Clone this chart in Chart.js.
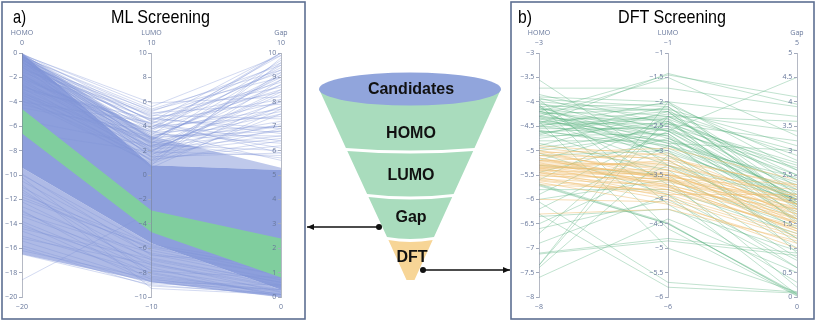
<!DOCTYPE html>
<html>
<head>
<meta charset="utf-8">
<script src="https://cdn.jsdelivr.net/npm/chart.js@4/dist/chart.umd.min.js"></script>
<style>
  html, body { margin: 0; padding: 0; background: #fff; }
  #wrap { position: relative; width: 817px; height: 323px; overflow: hidden; }
  canvas { position: absolute; top: 0; }
  #ca { left: 0; }
  #cb { left: 508px; }
  svg { position: absolute; left: 0; top: 0; }
</style>
</head>
<body>
<div id="wrap">
  <canvas id="ca" width="308" height="323"></canvas>
  <canvas id="cb" width="309" height="323"></canvas>
  <svg width="817" height="323" font-family="'Liberation Sans', Arial, sans-serif">
    <defs>
      <marker id="head" markerUnits="userSpaceOnUse" markerWidth="7" markerHeight="6" refX="7" refY="3" orient="auto">
        <path d="M0,0 L7,3 L0,6 Z" fill="#111"/>
      </marker>
    </defs>
    <!-- panel frames -->
    <rect x="2" y="2" width="303" height="317" fill="none" stroke="#5d6f92" stroke-width="1.6"/>
    <rect x="511" y="2" width="303" height="317" fill="none" stroke="#5d6f92" stroke-width="1.6"/>
    <text x="13" y="23" font-size="19" textLength="13" lengthAdjust="spacingAndGlyphs">a)</text>
    <text x="160.5" y="23" font-size="19" text-anchor="middle" textLength="99" lengthAdjust="spacingAndGlyphs">ML Screening</text>
    <text x="518" y="23" font-size="19" textLength="14" lengthAdjust="spacingAndGlyphs">b)</text>
    <text x="672" y="23" font-size="19" text-anchor="middle" textLength="108" lengthAdjust="spacingAndGlyphs">DFT Screening</text>

    <!-- funnel -->
    <path d="M319,89 L501,89 L474.5,148 Q410,153 345.9,148 Z" fill="#a9dcbd"/>
    <path d="M347.3,151 Q410,156 473.2,151 L453.6,194 Q410,199 367.1,194 Z" fill="#a9dcbd"/>
    <path d="M368.5,197 Q410,202 452.2,197 L434,237 Q410,241 387,237 Z" fill="#a9dcbd"/>
    <path d="M388.4,240 Q410,244 432.7,240 L414.5,280 L406.5,280 Z" fill="#f7d596"/>
    <ellipse cx="410" cy="89" rx="91" ry="16.5" fill="#91a5dc"/>
    <g font-size="16" font-weight="bold" text-anchor="middle" fill="#111">
      <text x="411" y="94">Candidates</text>
      <text x="411" y="137.5">HOMO</text>
      <text x="411" y="180">LUMO</text>
      <text x="411" y="222">Gap</text>
      <text x="412" y="262">DFT</text>
    </g>

    <!-- arrows -->
    <line x1="379" y1="227" x2="307" y2="227" stroke="#111" stroke-width="1.4" marker-end="url(#head)"/>
    <circle cx="379" cy="227" r="3" fill="#111"/>
    <line x1="423" y1="270" x2="510" y2="270" stroke="#111" stroke-width="1.4" marker-end="url(#head)"/>
    <circle cx="423" cy="270" r="3" fill="#111"/>
  </svg>
</div>

<script>
// ---- panel a: ML screening (HOMO, LUMO, Gap) ----
const mlNames = ['HOMO', 'LUMO', 'Gap'];
const mlMin = [-20, -10, 0];
const mlMax = [0, 10, 10];
const mlStep = [2, 2, 1];

// envelopes of the dense bundles [HOMO, LUMO, Gap]
const mlCoreTop = [0, 0.8, 5.2];
const mlCoreBottom = [-9.4, -5.6, 0.3];
const mlUpperTop = [0, 3.2, 5.3];
const mlLowerBottom = [-16.5, -8.8, 0.0];
const mlPassTop = [-4.6, -2.9, 2.4];
const mlPassBottom = [-6.6, -4.7, 0.8];

// individual sparse lines outside the dense core
const mlHomo = [-0.1, -0.3, -0.5, -0.8, -1.0, -1.2, -1.5, -1.8, -2.0, -2.3, -2.6, -2.9, -3.1, -3.4, -3.7,
  -0.2, -0.4, -0.6, -0.9, -1.3, -2.2, -0.7, -1.6, -4.0, -5.5, -6.5, -3.0, -2.5, -1.1, -4.5,
  -0.15, -0.35, -0.55, -0.75, -1.4, -1.7, -1.9, -2.1, -2.7, -3.3, -3.6, -0.25, -0.45, -0.65, -0.85, -1.05,
  -0.05, -0.12, -0.22, -0.32, -0.42, -0.52, -0.62, -0.72, -0.95, -1.15, -1.35, -1.55, -1.75, -2.05, -2.4,
  -2.8, -3.2, -3.5, -3.9, -4.2, -0.18, -0.28, -0.38, -0.48,
  -10.0, -10.5, -11.0, -11.4, -11.8, -12.2, -12.6, -13.0, -13.4, -13.8, -14.2, -14.6, -15.0, -15.4, -15.8,
  -16.2, -16.5, -18.6, -14.0, -12.9, -10.8, -9.9, -11.2, -12.0, -13.2, -14.4, -15.2, -16.0, -10.2, -11.6];
const mlLumo = [5.6, 5.2, 4.8, 4.5, 4.2, 3.8, 3.5, 3.2, 2.9, 2.6, 2.3, 2.0, 1.8, 1.5, 1.3,
  3.0, 2.5, 4.0, 1.5, 5.0, 3.9, 3.3, 2.7, 4.3, 2.4, 1.9, 4.6, 0.8, 1.1, 3.6,
  5.9, 4.4, 3.6, 2.2, 4.9, 1.9, 3.1, 1.2, 3.7, 2.8, 0.9, 2.0, 1.4, 0.6, 5.3, 3.4,
  4.7, 3.9, 2.4, 5.4, 1.7, 3.0, 4.1, 2.6, 5.1, 3.3, 2.1, 4.6, 1.6, 3.5, 2.3,
  4.2, 1.2, 2.7, 1.0, 3.1, 4.4, 3.8, 2.9, 1.9,
  -5.8, -6.2, -6.5, -7.0, -6.0, -7.4, -6.8, -7.8, -7.2, -8.1, -7.6, -8.4, -8.0, -8.7, -8.9,
  -8.5, -9.0, -3.0, -8.8, -8.6, -9.3, -6.6, -7.9, -5.9, -6.4, -6.9, -7.3, -9.1, -8.3, -5.7];
const mlGap = [9.9, 9.5, 9.2, 8.8, 9.6, 8.5, 8.0, 7.6, 9.0, 7.2, 6.8, 8.3, 6.5, 7.8, 6.2,
  7.0, 6.0, 7.4, 5.9, 8.6, 9.3, 6.6, 5.7, 8.1, 7.0, 5.8, 6.9, 9.8, 8.9, 5.6,
  8.2, 10.0, 9.4, 7.8, 7.3, 9.1, 8.7, 6.4, 10.0, 9.7, 7.5, 8.4, 6.9, 7.7, 9.0, 6.3,
  6.7, 9.9, 8.0, 9.3, 7.1, 8.9, 6.1, 9.5, 7.9, 10.0, 6.6, 8.4, 9.2, 7.0, 8.7,
  6.4, 9.6, 7.5, 8.1, 6.8, 5.9, 7.7, 9.1, 8.5,
  1.1, 0.9, 0.7, 0.5, 1.0, 0.4, 0.6, 0.3, 0.2, 0.1, 0.0, 0.2, 0.1, 0.0, 0.3,
  0.05, 0.1, 2.0, 0.5, 0.3, 0.1, 1.4, 0.8, 1.2, 0.9, 0.6, 0.45, 0.15, 0.25, 1.3];

// ---- panel b: DFT screening ----
const dftNames = ['HOMO', 'LUMO', 'Gap'];
const dftMin = [-8, -6, 0];
const dftMax = [-3, -1, 5];
const dftStep = [0.5, 0.5, 0.5];

// green: rejected candidates
const dftHomoG = [-3.55, -3.72, -4.3, -4.45, -4.2, -4.2, -3.9, -3.95, -4.0, -4.05, -4.1, -4.15, -4.2, -4.25, -4.3,
  -4.35, -4.4, -4.45, -4.5, -4.55, -4.6, -4.65, -4.7, -4.02, -4.12, -4.22, -4.32, -4.42, -4.52, -4.62,
  -3.85, -3.92, -4.08, -4.18, -4.28, -4.38, -4.48, -4.58, -4.68, -4.75, -4.8, -4.85, -4.9, -4.95, -5.0,
  -5.1, -5.2, -5.3, -5.45, -5.6, -5.7, -5.72, -5.68, -5.8, -5.9, -6.0, -6.05, -6.2, -6.3, -6.35,
  -6.5, -6.6, -6.7, -6.9, -7.1, -7.12, -7.35, -7.35, -7.4, -7.6, -4.05, -3.95, -4.4, -4.1, -4.6,
  -5.05, -4.3, -4.5, -4.15, -4.35];
const dftLumoG = [-3.3, -1.72, -1.5, -1.42, -1.45, -2.6, -2.0, -2.1, -2.2, -2.3, -2.05, -2.4, -2.5, -2.15, -2.6,
  -2.35, -2.7, -2.45, -2.8, -2.55, -2.9, -2.25, -2.65, -2.75, -2.85, -2.95, -3.05, -2.2, -2.35, -2.5,
  -2.45, -2.6, -3.1, -3.2, -2.7, -3.3, -2.3, -3.0, -2.1, -2.4, -2.8, -3.4, -2.2, -2.55, -2.65,
  -3.0, -2.45, -3.5, -2.75, -2.3, -4.5, -4.5, -4.48, -3.8, -2.6, -3.6, -5.7, -2.9, -5.8, -4.2,
  -3.3, -4.0, -2.4, -3.9, -4.8, -4.85, -2.0, -2.3, -3.1, -4.4, -4.6, -4.1, -5.0, -3.7, -3.6,
  -3.9, -2.85, -2.0, -2.15, -2.9];
const dftGapG = [2.0, 3.9, 3.3, 3.95, 4.1, 4.5, 3.7, 2.1, 1.9, 2.4, 2.8, 2.0, 1.8, 3.1, 2.05,
  2.6, 1.95, 2.2, 1.85, 2.5, 2.0, 3.4, 1.7, 2.3, 1.6, 1.9, 2.1, 2.9, 1.5, 2.7,
  3.2, 2.65, 1.75, 1.4, 0.9, 1.2, 3.6, 1.1, 2.25, 1.65, 2.35, 1.0, 1.95, 2.05, 1.55,
  2.0, 2.75, 0.8, 2.15, 3.0, 0.05, 0.07, 0.03, 1.3, 1.9, 1.45, 0.1, 2.2, 0.08, 0.95,
  1.6, 0.6, 2.4, 0.75, 0.9, 0.85, 1.9, 2.5, 1.2, 0.5, 0.02, 0.3, 0.1, 0.6, 0.2,
  0.05, 3.0, 2.6, 1.85, 2.45];

// orange: candidates kept after DFT
const dftHomoO = [-4.95, -5.0, -5.05, -5.1, -5.15, -5.2, -5.25, -5.3, -5.32, -5.35, -5.38, -5.4, -5.42, -5.45,
  -5.5, -5.55, -5.6, -5.3, -5.35, -5.4, -5.2, -5.1, -5.25, -5.45, -5.65, -5.0, -5.15, -5.28, -5.33, -5.48,
  -5.52, -5.58, -4.9, -5.7, -5.62, -6.3, -6.0, -5.05, -5.22, -5.37];
const dftLumoO = [-3.2, -3.3, -3.5, -3.4, -3.6, -3.35, -3.7, -3.55, -3.45, -3.8, -3.6, -3.5, -3.9, -3.65,
  -3.75, -4.0, -3.85, -3.25, -3.4, -3.7, -3.55, -3.15, -3.3, -3.95, -4.1, -3.6, -3.75, -3.5, -3.62, -3.48,
  -3.58, -3.72, -3.1, -3.8, -3.9, -4.2, -4.05, -2.95, -3.05, -3.2];
const dftGapO = [2.3, 2.1, 1.9, 2.0, 1.8, 1.7, 1.6, 2.2, 1.5, 1.4, 1.95, 1.75, 1.3, 1.85,
  1.55, 1.2, 1.45, 2.05, 1.9, 1.65, 1.35, 2.25, 1.8, 1.25, 1.1, 1.5, 1.4, 2.3, 1.7, 1.6,
  2.0, 1.35, 1.9, 1.8, 2.1, 1.15, 1.0, 2.4, 1.6, 1.5];

const tickColor = '#66769a';
const fmt = (v) => String(v).replace('-', '\u2212');

// axis name + range labels above and below each parallel axis
const axisHeads = {
  id: 'axisHeads',
  afterDraw(chart, args, opts) {
    const { ctx, chartArea, scales } = chart;
    ctx.save();
    ctx.font = '7px "Open Sans"';
    ctx.fillStyle = tickColor;
    ctx.textAlign = 'center';
    ctx.textBaseline = 'middle';
    opts.names.forEach((name, k) => {
      const x = scales.x.getPixelForValue(k);
      ctx.fillText(name, x, chartArea.top - 20);
      ctx.fillText(fmt(opts.max[k]), x, chartArea.top - 10);
      ctx.fillText(fmt(opts.min[k]), x, chartArea.bottom + 10);
    });
    ctx.restore();
  }
};

function buildChart(canvasId, pad, names, min, max, step, layers) {
  const toY = (v, k) => (v - min[k]) / (max[k] - min[k]);
  const pts = (row) => row.map((v, k) => ({ x: k, y: toY(v, k) }));
  const datasets = [];

  // layers are listed bottom to top
  layers.forEach((layer) => {
    if (layer.band) {
      datasets.push({ data: pts(layer.band[0]), borderColor: 'transparent', borderWidth: 0, pointRadius: 0, fill: false });
      datasets.push({ data: pts(layer.band[1]), borderColor: 'transparent', borderWidth: 0, pointRadius: 0,
        fill: '-1', backgroundColor: layer.color });
    } else {
      layer.lines[0].forEach((h, i) => {
        datasets.push({ data: pts([h, layer.lines[1][i], layer.lines[2][i]]), borderColor: layer.color,
          borderWidth: 1, pointRadius: 0, fill: false, tension: 0 });
      });
    }
  });
  datasets.forEach((d, i) => { d.order = datasets.length - i; });

  const scales = {
    x: { type: 'linear', min: 0, max: 2, display: false },
    y: { type: 'linear', min: 0, max: 1, display: false },
  };
  names.forEach((n, k) => {
    scales['ax' + k] = {
      type: 'linear',
      axis: 'y',
      position: { x: k },
      min: min[k],
      max: max[k],
      ticks: {
        stepSize: step[k],
        color: tickColor,
        font: { family: 'Open Sans', size: 7 },
        z: 1,
        callback: (v) => fmt(v) + '\u2002\u2009',
      },
      grid: { drawOnChartArea: false, tickLength: 3, color: '#a3abbd', z: 1 },
      border: { color: 'rgba(120,128,148,0.55)', z: 1 },
    };
  });

  return new Chart(document.getElementById(canvasId), {
    type: 'line',
    data: { datasets },
    plugins: [axisHeads],
    options: {
      responsive: false,
      animation: false,
      events: [],
      layout: { padding: pad },
      scales,
      plugins: {
        legend: { display: false },
        tooltip: { enabled: false },
        axisHeads: { names, min, max },
      },
    },
  });
}

buildChart('ca', { left: 22, right: 27, top: 53, bottom: 26 }, mlNames, mlMin, mlMax, mlStep, [
  { band: [mlCoreBottom, mlLowerBottom], color: 'rgba(139,157,219,0.7)' },
  { band: [mlUpperTop, mlCoreTop], color: 'rgba(139,157,219,0.55)' },
  { band: [mlCoreTop, mlCoreBottom], color: 'rgb(141,159,220)' },
  { lines: [mlHomo, mlLumo, mlGap], color: 'rgba(130,150,215,0.35)' },
  { band: [mlPassTop, mlPassBottom], color: 'rgb(128,206,158)' },
]);

buildChart('cb', { left: 31, right: 20, top: 53, bottom: 26 }, dftNames, dftMin, dftMax, dftStep, [
  { lines: [dftHomoG, dftLumoG, dftGapG], color: 'rgba(92,180,130,0.38)' },
  { lines: [dftHomoO, dftLumoO, dftGapO], color: 'rgba(240,190,110,0.5)' },
]);
</script>
</body>
</html>
